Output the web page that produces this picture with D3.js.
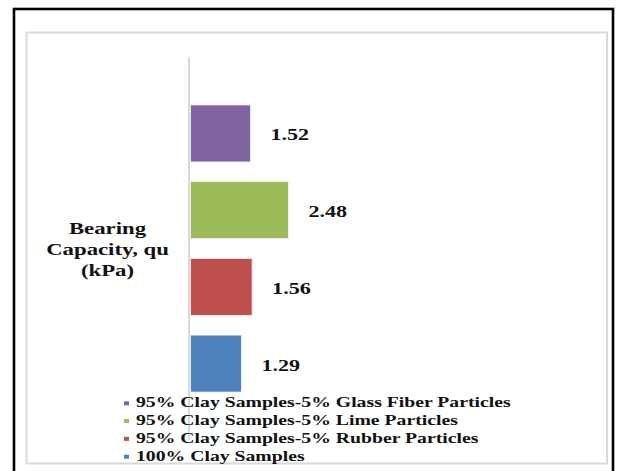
<!DOCTYPE html>
<html>
<head>
<meta charset="utf-8">
<script src="https://cdn.jsdelivr.net/npm/d3@7"></script>
<style>
  html, body { margin: 0; padding: 0; background: #fff; }
  svg { display: block; }
</style>
</head>
<body>
<svg id="chart" width="617" height="471"></svg>
<script>
// Series (drawn bottom to top in the order listed)
const series = [
  "100% Clay Samples",
  "95% Clay Samples-5% Rubber Particles",
  "95% Clay Samples-5% Lime Particles",
  "95% Clay Samples-5% Glass Fiber Particles"
];
const values = [1.29, 1.56, 2.48, 1.52];
const colors = ["#4F81BD", "#C0504D", "#9BBB59", "#8064A2"];
const categoryLabel = ["Bearing", "Capacity, qu", "(kPa)"];
const valueDomain = [0, 3];

const FONT = "'Liberation Serif', 'Times New Roman', serif";
const svg = d3.select("#chart");
const sx = 1.38;      // wide type stretch
const sxLegend = 1.36;

// frames
svg.append("rect")
  .attr("x", 14).attr("y", 9).attr("width", 599).attr("height", 480)
  .attr("fill", "#fff").attr("stroke", "#000").attr("stroke-width", 2.6);
svg.append("rect")
  .attr("x", 26.5).attr("y", 32.5).attr("width", 580.5).attr("height", 431)
  .attr("fill", "#fff").attr("stroke", "#d9d9d9").attr("stroke-width", 2);

// scales
const x = d3.scaleLinear().domain(valueDomain).range([190.5, 190.5 + 3 * 39.5]);
const order = series.slice().reverse(); // top-most bar first
const y = d3.scaleBand().domain(order).range([57, 440]).paddingInner(0.257).paddingOuter(0.625);

// category axis (line only)
const yAxis = d3.axisLeft(y).tickSize(0).tickFormat("");
const gAxis = svg.append("g").attr("transform", `translate(${x(0) - 1.5},0)`).call(yAxis);
gAxis.select(".domain").attr("stroke", "#d9d9d9").attr("stroke-width", 2)
  .attr("d", `M0,57V440`);

// bars
const data = series.map((s, i) => ({ s, v: values[i], c: colors[i] }));
svg.append("g").selectAll("rect").data(data).join("rect")
  .attr("x", x(0))
  .attr("y", d => y(d.s))
  .attr("width", d => x(d.v) - x(0))
  .attr("height", y.bandwidth())
  .attr("fill", d => d.c)
  .attr("stroke", "#f4f4f4").attr("stroke-width", 0.8);

function styleText(sel, size) {
  sel.attr("font-family", FONT).attr("font-weight", "bold")
    .attr("font-size", size).attr("fill", "#111");
}

// value labels
svg.append("g").selectAll("text").data(data).join("text")
  .attr("transform", d => `translate(${x(d.v) + 20},${y(d.s) + y.bandwidth() / 2 + 7}) scale(${sx},1)`)
  .call(styleText, 16)
  .text(d => d.v.toFixed(2));

// category label
svg.append("g").selectAll("text").data(categoryLabel).join("text")
  .attr("transform", (d, i) => `translate(107.5,${234.3 + i * 20.7}) scale(${sx},1)`)
  .attr("text-anchor", "middle")
  .call(styleText, 16.5)
  .text(d => d);

// legend
const legend = svg.append("g").selectAll("g").data(order).join("g")
  .attr("transform", (d, i) => `translate(0,${407.3 + i * 17.8})`);
legend.append("rect")
  .attr("x", 124).attr("y", -6).attr("width", 5).attr("height", 4)
  .attr("fill", d => colors[series.indexOf(d)]);
legend.append("text")
  .attr("transform", `translate(136,0) scale(${sxLegend},1)`)
  .call(styleText, 14.5)
  .text(d => d);
</script>
</body>
</html>
